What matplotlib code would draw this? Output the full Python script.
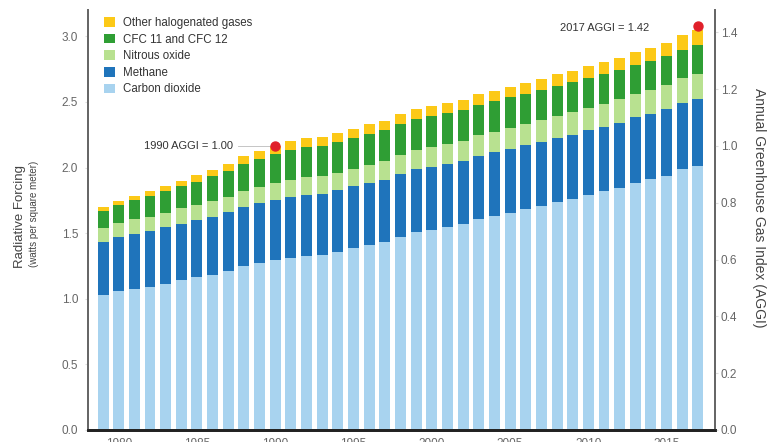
import matplotlib
matplotlib.use("Agg")
import matplotlib.pyplot as plt
from matplotlib.patches import Patch
import numpy as np

plt.rcParams['font.family'] = ['Liberation Sans', 'DejaVu Sans']

# Radiative forcing (W/m^2) by gas group, 1979-2017
years = list(range(1979, 2018))
carbon_dioxide = [1.027, 1.058, 1.077, 1.089, 1.115, 1.140, 1.162, 1.184, 1.211, 1.250,
                  1.274, 1.293, 1.313, 1.324, 1.334, 1.356, 1.384, 1.410, 1.429, 1.471,
                  1.505, 1.522, 1.543, 1.568, 1.604, 1.630, 1.657, 1.685, 1.710, 1.739,
                  1.760, 1.791, 1.818, 1.846, 1.884, 1.909, 1.938, 1.985, 2.013]
methane = [0.406, 0.413, 0.420, 0.426, 0.429, 0.432, 0.437, 0.442, 0.447, 0.451,
           0.455, 0.459, 0.463, 0.467, 0.467, 0.469, 0.472, 0.473, 0.475, 0.479,
           0.483, 0.484, 0.483, 0.484, 0.486, 0.485, 0.485, 0.485, 0.487, 0.489,
           0.491, 0.493, 0.494, 0.496, 0.498, 0.501, 0.504, 0.507, 0.509]
nitrous_oxide = [0.104, 0.104, 0.107, 0.111, 0.113, 0.116, 0.118, 0.122, 0.120, 0.123,
                 0.126, 0.129, 0.131, 0.133, 0.133, 0.135, 0.136, 0.139, 0.142, 0.144,
                 0.146, 0.149, 0.151, 0.153, 0.155, 0.157, 0.160, 0.162, 0.165, 0.167,
                 0.170, 0.172, 0.175, 0.178, 0.181, 0.184, 0.187, 0.190, 0.193]
cfc11_cfc12 = [0.131, 0.139, 0.146, 0.154, 0.161, 0.168, 0.176, 0.185, 0.194, 0.205,
               0.213, 0.219, 0.225, 0.229, 0.232, 0.233, 0.235, 0.236, 0.237, 0.237,
               0.238, 0.237, 0.237, 0.236, 0.235, 0.234, 0.233, 0.231, 0.230, 0.228,
               0.227, 0.225, 0.224, 0.222, 0.221, 0.219, 0.218, 0.216, 0.215]
other_halogenated = [0.031, 0.034, 0.036, 0.038, 0.041, 0.044, 0.047, 0.049, 0.053, 0.057,
                     0.061, 0.065, 0.067, 0.069, 0.069, 0.069, 0.070, 0.071, 0.072, 0.073,
                     0.074, 0.075, 0.076, 0.077, 0.078, 0.079, 0.081, 0.082, 0.084, 0.086,
                     0.088, 0.090, 0.092, 0.094, 0.096, 0.099, 0.101, 0.115, 0.120]

series_names = ["Carbon dioxide", "Methane", "Nitrous oxide",
                "CFC 11 and CFC 12", "Other halogenated gases"]
series_colors = ["#a8d3ef", "#1f74bb", "#b8e190", "#2f9e34", "#fcc917"]

aggi_years = [1990, 2017]
aggi_values = [1.00, 1.42]
x_tick_years = list(range(1980, 2016, 5))

# AGGI is total forcing normalised to 1990
forcing_1990 = 2.165

fig = plt.figure(figsize=(7.7, 4.42), dpi=100)
W, H = 770, 442
ax = fig.add_axes([88 / W, 12 / H, (715 - 88) / W, 420 / H])

x = np.array(years)
stack = [carbon_dioxide, methane, nitrous_oxide, cfc11_cfc12, other_halogenated]
bottom = np.zeros(len(years))
for vals, name, col in zip(stack, series_names, series_colors):
    v = np.array(vals)
    ax.bar(x, v, bottom=bottom, width=0.7, color=col, label=name, zorder=2)
    bottom += v

ax.set_xlim(1978.04, 2018.09)
ax.set_ylim(0, 3.2)
ax.set_yticks([0.0, 0.5, 1.0, 1.5, 2.0, 2.5, 3.0])
ax.set_yticklabels(["0.0", "0.5", "1.0", "1.5", "2.0", "2.5", "3.0"])
ax.set_xticks(x_tick_years)
ax.set_xticklabels([str(y) for y in x_tick_years])

ax2 = ax.twinx()
ax2.set_ylim(0, 3.2 / forcing_1990)
ax2.set_yticks([0.0, 0.2, 0.4, 0.6, 0.8, 1.0, 1.2, 1.4])
ax2.set_yticklabels(["0.0", "0.2", "0.4", "0.6", "0.8", "1.0", "1.2", "1.4"])

for a in (ax, ax2):
    a.spines['top'].set_visible(False)
    a.spines['left'].set_color("#666666")
    a.spines['right'].set_color("#666666")
    a.spines['left'].set_linewidth(1.3)
    a.spines['right'].set_linewidth(1.3)
    a.spines['bottom'].set_color("#222222")
    a.spines['bottom'].set_linewidth(2.0)
    a.set_facecolor("none")

ax.tick_params(axis='y', length=2, color="#dddddd", pad=5, labelsize=8.5, labelcolor="#666666")
ax.tick_params(axis='x', length=0, pad=6, labelsize=8.5, labelcolor="#666666")
ax2.tick_params(axis='y', length=2, color="#dddddd", pad=2, labelsize=8.5, labelcolor="#666666")

# AGGI markers
ax2.scatter(aggi_years, aggi_values, s=42, color="#e0202a", zorder=5, clip_on=False)
ax2.plot([1987.6, aggi_years[0] - 0.35], [aggi_values[0], aggi_values[0]],
         color="#bbbbbb", lw=0.6, zorder=4)
ax2.text(1987.3, aggi_values[0], "1990 AGGI = 1.00", ha="right", va="center",
         fontsize=8, color="#333333")
ax2.text(2013.9, aggi_values[1] - 0.005, "2017 AGGI = 1.42", ha="right", va="center",
         fontsize=8, color="#333333")

# Axis titles
fig.text(20 / W, 1 - 217 / H, "Radiative Forcing", rotation=90, ha="center", va="center",
         fontsize=9.5, color="#444444")
fig.text(34 / W, 1 - 214 / H, "(watts per square meter)", rotation=90, ha="center",
         va="center", fontsize=7, color="#444444")
fig.text(759 / W, 1 - 208 / H, "Annual Greenhouse Gas Index (AGGI)", rotation=270,
         ha="center", va="center", fontsize=10, color="#444444")

# Legend, top entry first
handles = [Patch(facecolor=c, edgecolor="none") for c in series_colors][::-1]
labels = series_names[::-1]
ax.legend(handles, labels, loc="upper left", bbox_to_anchor=(0.015, 1.0),
          frameon=False, fontsize=8.3, handlelength=0.9, handleheight=0.9,
          handletextpad=0.7, labelspacing=0.4, labelcolor="#333333",
          borderaxespad=0.2)

fig.savefig("out.png", dpi=100, facecolor="white")
